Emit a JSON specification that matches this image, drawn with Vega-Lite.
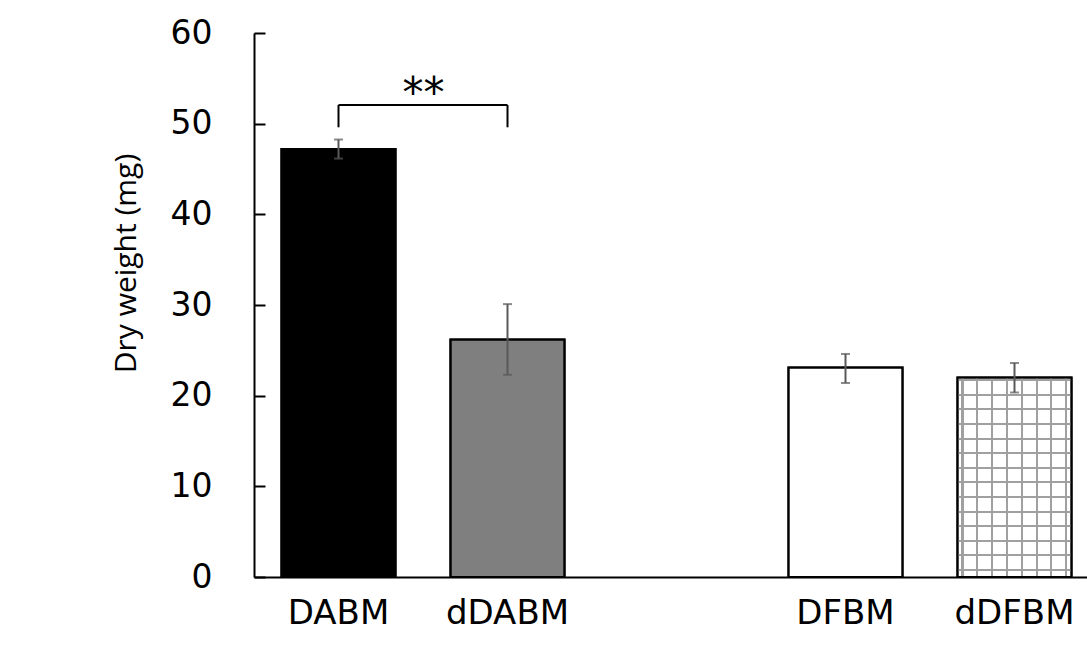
{
  "$schema": "https://vega.github.io/schema/vega-lite/v6.json",
  "autosize": {"type": "none"},
  "padding": {"left": 254, "top": 33, "right": 0, "bottom": 73},
  "width": 833,
  "height": 544,
  "background": "white",
  "config": {
    "font": "DejaVu Sans",
    "view": {"stroke": null},
    "axis": {"labelColor": "#000000", "titleColor": "#000000", "labelFont": "DejaVu Sans", "titleFont": "DejaVu Sans", "titleFontWeight": "normal", "grid": false, "domainColor": "#000000", "domainWidth": 2}
  },
  "datasets": {
    "bars": [
      {"group": "DABM", "weight": 47.2, "lower": 46.15, "upper": 48.25},
      {"group": "dDABM", "weight": 26.2, "lower": 22.3, "upper": 30.1},
      {"group": "DFBM", "weight": 23.1, "lower": 21.4, "upper": 24.6},
      {"group": "dDFBM", "weight": 22.0, "lower": 20.35, "upper": 23.6}
    ],
    "bracket": [
      {"from": "DABM", "to": "dDABM", "y": 52.06, "y2": 52.06},
      {"from": "DABM", "to": "DABM", "y": 49.6, "y2": 52.06},
      {"from": "dDABM", "to": "dDABM", "y": 49.6, "y2": 52.06}
    ],
    "sig": [
      {"group": "DABM", "y": 51.8, "label": "**"}
    ]
  },
  "layer": [
    {
      "data": {"name": "bars"},
      "mark": {"type": "bar", "stroke": "#000000", "strokeWidth": 2},
      "encoding": {
        "x": {
          "field": "group", "type": "nominal",
          "scale": {"domain": ["DABM", "dDABM", "gap", "DFBM", "dDFBM"], "range": [0, 845], "paddingInner": 0.325, "paddingOuter": 0.1625},
          "axis": {"title": null, "ticks": false, "labelAngle": 0, "labelFontSize": 34, "labelPadding": 19, "domainColor": "#000000", "domainWidth": 2, "labelExpr": "datum.value == 'gap' ? '' : datum.value"}
        },
        "y": {
          "field": "weight", "type": "quantitative",
          "scale": {"domain": [0, 60], "nice": false},
          "axis": {"title": "Dry weight (mg)", "values": [0, 10, 20, 30, 40, 50, 60], "tickSize": -11, "tickWidth": 2, "tickColor": "#000000", "domainColor": "#000000", "domainWidth": 2, "labelFontSize": 33, "labelPadding": 53, "titleFont": "Open Sans", "titleFontSize": 30, "titleX": -128, "titleY": 230, "titleAngle": -90, "titleAlign": "center", "titleBaseline": "middle"}
        },
        "fill": {
          "field": "group", "type": "nominal",
          "scale": {"domain": ["DABM", "dDABM", "DFBM", "dDFBM"], "range": ["#000000", "#7f7f7f", "#ffffff", "#ffffff"]},
          "legend": null
        }
      }
    },
    {
      "data": {"name": "bars"},
      "transform": [{"filter": "datum.group == 'dDFBM'"}],
      "mark": {
        "type": "bar",
        "fill": {
          "gradient": "linear", "x1": 0, "y1": 0, "x2": 0, "y2": 1,
          "stops": [
            {"offset": 0.008, "color": "rgba(255,255,255,0)"}, {"offset": 0.008, "color": "#a0a0a0"}, {"offset": 0.018, "color": "#a0a0a0"}, {"offset": 0.018, "color": "rgba(255,255,255,0)"},
            {"offset": 0.0812, "color": "rgba(255,255,255,0)"}, {"offset": 0.0812, "color": "#a0a0a0"}, {"offset": 0.0912, "color": "#a0a0a0"}, {"offset": 0.0912, "color": "rgba(255,255,255,0)"},
            {"offset": 0.1544, "color": "rgba(255,255,255,0)"}, {"offset": 0.1544, "color": "#a0a0a0"}, {"offset": 0.1644, "color": "#a0a0a0"}, {"offset": 0.1644, "color": "rgba(255,255,255,0)"},
            {"offset": 0.2276, "color": "rgba(255,255,255,0)"}, {"offset": 0.2276, "color": "#a0a0a0"}, {"offset": 0.2376, "color": "#a0a0a0"}, {"offset": 0.2376, "color": "rgba(255,255,255,0)"},
            {"offset": 0.3008, "color": "rgba(255,255,255,0)"}, {"offset": 0.3008, "color": "#a0a0a0"}, {"offset": 0.3108, "color": "#a0a0a0"}, {"offset": 0.3108, "color": "rgba(255,255,255,0)"},
            {"offset": 0.374, "color": "rgba(255,255,255,0)"}, {"offset": 0.374, "color": "#a0a0a0"}, {"offset": 0.384, "color": "#a0a0a0"}, {"offset": 0.384, "color": "rgba(255,255,255,0)"},
            {"offset": 0.4472, "color": "rgba(255,255,255,0)"}, {"offset": 0.4472, "color": "#a0a0a0"}, {"offset": 0.4572, "color": "#a0a0a0"}, {"offset": 0.4572, "color": "rgba(255,255,255,0)"},
            {"offset": 0.5204, "color": "rgba(255,255,255,0)"}, {"offset": 0.5204, "color": "#a0a0a0"}, {"offset": 0.5304, "color": "#a0a0a0"}, {"offset": 0.5304, "color": "rgba(255,255,255,0)"},
            {"offset": 0.5936, "color": "rgba(255,255,255,0)"}, {"offset": 0.5936, "color": "#a0a0a0"}, {"offset": 0.6036, "color": "#a0a0a0"}, {"offset": 0.6036, "color": "rgba(255,255,255,0)"},
            {"offset": 0.6668, "color": "rgba(255,255,255,0)"}, {"offset": 0.6668, "color": "#a0a0a0"}, {"offset": 0.6768, "color": "#a0a0a0"}, {"offset": 0.6768, "color": "rgba(255,255,255,0)"},
            {"offset": 0.74, "color": "rgba(255,255,255,0)"}, {"offset": 0.74, "color": "#a0a0a0"}, {"offset": 0.75, "color": "#a0a0a0"}, {"offset": 0.75, "color": "rgba(255,255,255,0)"},
            {"offset": 0.8132, "color": "rgba(255,255,255,0)"}, {"offset": 0.8132, "color": "#a0a0a0"}, {"offset": 0.8232, "color": "#a0a0a0"}, {"offset": 0.8232, "color": "rgba(255,255,255,0)"},
            {"offset": 0.8864, "color": "rgba(255,255,255,0)"}, {"offset": 0.8864, "color": "#a0a0a0"}, {"offset": 0.8964, "color": "#a0a0a0"}, {"offset": 0.8964, "color": "rgba(255,255,255,0)"},
            {"offset": 0.9596, "color": "rgba(255,255,255,0)"}, {"offset": 0.9596, "color": "#a0a0a0"}, {"offset": 0.9696, "color": "#a0a0a0"}, {"offset": 0.9696, "color": "rgba(255,255,255,0)"}
          ]
        }
      },
      "encoding": {
        "x": {"field": "group", "type": "nominal"},
        "y": {"field": "weight", "type": "quantitative", "title": "Dry weight (mg)"}
      }
    },
    {
      "data": {"name": "bars"},
      "transform": [{"filter": "datum.group == 'dDFBM'"}],
      "mark": {
        "type": "bar",
        "fill": {
          "gradient": "linear", "x1": 0, "y1": 0, "x2": 1, "y2": 0,
          "stops": [
            {"offset": 0.035, "color": "rgba(255,255,255,0)"}, {"offset": 0.035, "color": "#a0a0a0"}, {"offset": 0.053, "color": "#a0a0a0"}, {"offset": 0.053, "color": "rgba(255,255,255,0)"},
            {"offset": 0.165, "color": "rgba(255,255,255,0)"}, {"offset": 0.165, "color": "#a0a0a0"}, {"offset": 0.183, "color": "#a0a0a0"}, {"offset": 0.183, "color": "rgba(255,255,255,0)"},
            {"offset": 0.295, "color": "rgba(255,255,255,0)"}, {"offset": 0.295, "color": "#a0a0a0"}, {"offset": 0.313, "color": "#a0a0a0"}, {"offset": 0.313, "color": "rgba(255,255,255,0)"},
            {"offset": 0.425, "color": "rgba(255,255,255,0)"}, {"offset": 0.425, "color": "#a0a0a0"}, {"offset": 0.443, "color": "#a0a0a0"}, {"offset": 0.443, "color": "rgba(255,255,255,0)"},
            {"offset": 0.555, "color": "rgba(255,255,255,0)"}, {"offset": 0.555, "color": "#a0a0a0"}, {"offset": 0.573, "color": "#a0a0a0"}, {"offset": 0.573, "color": "rgba(255,255,255,0)"},
            {"offset": 0.685, "color": "rgba(255,255,255,0)"}, {"offset": 0.685, "color": "#a0a0a0"}, {"offset": 0.703, "color": "#a0a0a0"}, {"offset": 0.703, "color": "rgba(255,255,255,0)"},
            {"offset": 0.815, "color": "rgba(255,255,255,0)"}, {"offset": 0.815, "color": "#a0a0a0"}, {"offset": 0.833, "color": "#a0a0a0"}, {"offset": 0.833, "color": "rgba(255,255,255,0)"},
            {"offset": 0.945, "color": "rgba(255,255,255,0)"}, {"offset": 0.945, "color": "#a0a0a0"}, {"offset": 0.963, "color": "#a0a0a0"}, {"offset": 0.963, "color": "rgba(255,255,255,0)"}
          ]
        }
      },
      "encoding": {
        "x": {"field": "group", "type": "nominal"},
        "y": {"field": "weight", "type": "quantitative", "title": "Dry weight (mg)"}
      }
    },
    {
      "data": {"name": "bars"},
      "mark": {"type": "bar", "fill": null, "fillOpacity": 0, "stroke": "#000000", "strokeWidth": 2},
      "encoding": {
        "x": {"field": "group", "type": "nominal"},
        "y": {"field": "weight", "type": "quantitative", "title": "Dry weight (mg)"}
      }
    },
    {
      "data": {"name": "bars"},
      "mark": {"type": "errorbar", "color": "#595959", "thickness": 2, "ticks": {"size": 9, "thickness": 2, "color": "#595959"}, "rule": {"strokeWidth": 2, "color": "#595959"}},
      "encoding": {
        "x": {"field": "group", "type": "nominal"},
        "y": {"field": "lower", "type": "quantitative", "title": "Dry weight (mg)"},
        "y2": {"field": "upper"}
      }
    },
    {
      "data": {"name": "bracket"},
      "mark": {"type": "rule", "color": "#000000", "strokeWidth": 2},
      "encoding": {
        "x": {"field": "from", "type": "nominal"},
        "x2": {"field": "to"},
        "y": {"field": "y", "type": "quantitative", "title": "Dry weight (mg)"},
        "y2": {"field": "y2"}
      }
    },
    {
      "data": {"name": "sig"},
      "mark": {"type": "text", "fontSize": 42, "dx": 85, "baseline": "alphabetic", "align": "center", "color": "#000000"},
      "encoding": {
        "x": {"field": "group", "type": "nominal"},
        "y": {"field": "y", "type": "quantitative", "title": "Dry weight (mg)"},
        "text": {"field": "label"}
      }
    }
  ]
}
